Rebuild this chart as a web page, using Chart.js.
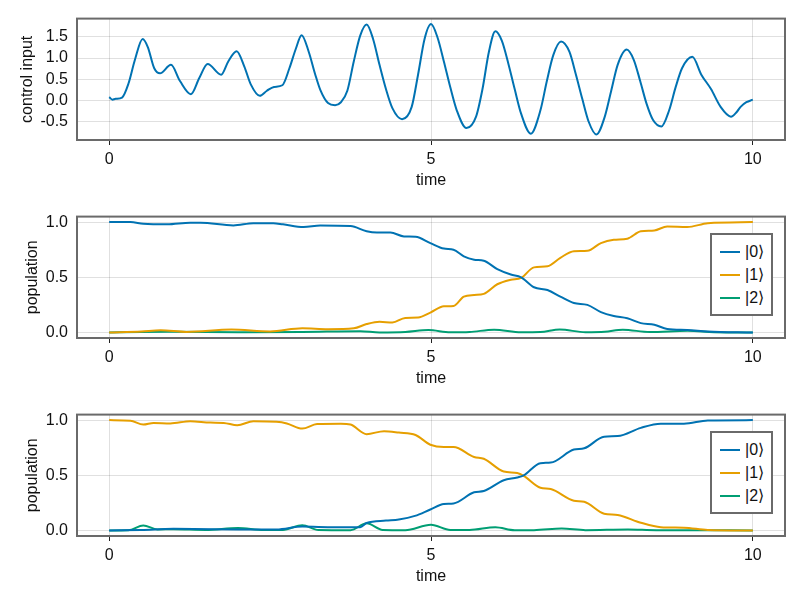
<!DOCTYPE html>
<html lang="en">
<head>
<meta charset="UTF-8">
<title>Control pulse and populations</title>
<script src="https://cdn.jsdelivr.net/npm/chart.js"></script>
<style>
    body { margin: 0; background: #fff; }
    #wrap { position: relative; width: 800px; height: 600px; font-family: "Liberation Sans", Arial, sans-serif; }
    .panel { position: absolute; left: 0; width: 800px; height: 198px; }
    .legend { position: absolute; left: 710px; top: 35px; width: 63px; height: 83px; box-sizing: border-box;
              border: 2px solid #6a6a6a; background: #fff; font-size: 16px; color: #111; }
    .legend .row { position: absolute; left: 0; height: 23px; line-height: 23px; white-space: nowrap; }
    .legend .sw { position: absolute; left: 8px; top: 10.5px; width: 20px; height: 2px; }
    .legend .lb { position: absolute; left: 33px; top: 0; }
</style>
</head>
<body>
<div id="wrap">
    <div class="panel" style="top:0"><canvas id="ctrlChart"></canvas></div>
    <div class="panel" style="top:198px"><canvas id="popChartA"></canvas><div class="legend" id="legendA"></div></div>
    <div class="panel" style="top:396px"><canvas id="popChartB"></canvas><div class="legend" id="legendB"></div></div>
</div>

<script>
// tick positions
const timeTicks = [0, 5, 10];
const ctrlTicks = [-0.5, 0, 0.5, 1.0, 1.5];
const popTicks = [0, 0.5, 1.0];
const stateLabels = ["|0\u27E9", "|1\u27E9", "|2\u27E9"];
const stateColors = ["#0072B2", "#E69F00", "#009E73"];

// control input
const ctrlT = [0,0.05,0.1,0.2,0.3,0.4,0.52,0.6,0.7,0.79,
    0.96,1.1,1.27,1.4,1.53,1.74,1.85,1.98,2.1,2.2,
    2.34,2.45,2.56,2.69,2.8,2.9,2.99,3.1,3.2,3.28,
    3.4,3.51,3.6,3.7,3.8,3.9,4.0,4.1,4.2,4.3,
    4.4,4.55,4.7,4.8,4.9,5.0,5.1,5.2,5.3,5.4,
    5.55,5.7,5.8,5.9,6.0,6.1,6.2,6.3,6.4,6.55,
    6.7,6.8,6.9,7.02,7.15,7.25,7.35,7.45,7.57,7.7,
    7.8,7.9,8.04,8.15,8.25,8.35,8.45,8.58,8.7,8.8,
    8.9,9.06,9.2,9.35,9.5,9.66,9.75,9.81,9.9,10];
const ctrlV = [0.08,0.02,0.04,0.07,0.4,0.96,1.45,1.26,0.76,0.64,
    0.84,0.46,0.15,0.53,0.86,0.61,0.92,1.16,0.80,0.38,
    0.11,0.23,0.32,0.36,0.76,1.22,1.54,1.15,0.62,0.25,
    -0.06,-0.11,-0.04,0.23,0.92,1.53,1.79,1.45,0.84,0.27,
    -0.18,-0.44,-0.15,0.62,1.45,1.80,1.49,0.92,0.31,-0.23,
    -0.65,-0.38,0.27,1.15,1.63,1.41,0.88,0.27,-0.31,-0.78,
    -0.23,0.46,1.07,1.39,1.15,0.62,0.04,-0.5,-0.80,-0.38,
    0.23,0.84,1.20,0.96,0.46,-0.08,-0.46,-0.61,-0.23,0.31,
    0.76,1.03,0.61,0.27,-0.15,-0.38,-0.27,-0.15,-0.04,0.02];

// middle panel: |0> -> |1>
const midT0 = [0,0.33,0.53,0.9,1.26,1.42,1.93,2.24,2.55,2.7,3.02,3.28,3.75,4.0,4.16,4.37,4.58,4.76,4.99,5.2,
    5.35,5.51,5.67,5.82,6.03,6.24,6.4,6.6,6.81,7.01,7.22,7.43,7.64,7.84,8.05,8.26,8.47,8.67,8.98,9.3,10];
const midV0 = [1.0,1.0,0.985,0.98,0.995,0.995,0.97,0.99,0.99,0.98,0.956,0.97,0.965,0.917,0.905,0.905,0.87,0.867,0.81,0.76,
    0.75,0.69,0.66,0.65,0.574,0.525,0.50,0.41,0.385,0.325,0.267,0.25,0.185,0.15,0.129,0.085,0.07,0.032,0.023,0.01,0.0];
const midT1 = [0,0.5,0.8,1.2,1.9,2.5,3.0,3.4,3.8,4.0,4.2,4.4,4.6,4.8,4.99,5.2,5.35,5.51,5.67,5.82,
    6.03,6.24,6.4,6.6,6.81,7.01,7.22,7.43,7.64,7.84,8.05,8.26,8.47,8.67,8.98,9.3,10];
const midV1 = [0,0.01,0.02,0.005,0.026,0.01,0.038,0.03,0.038,0.076,0.097,0.09,0.132,0.135,0.18,0.237,0.24,0.325,0.34,0.35,
    0.437,0.478,0.495,0.59,0.60,0.677,0.736,0.74,0.81,0.84,0.85,0.917,0.925,0.96,0.955,0.99,1.0];
const midT2 = [0,0.5,1.0,2.0,3.0,3.9,4.2,4.6,4.96,5.3,5.6,5.98,6.4,6.7,7.0,7.4,7.7,7.98,8.4,8.99,9.4,10];
const midV2 = [0,0.005,0.006,0.003,0.005,0.012,0.0,0.004,0.022,0.002,0.005,0.025,0.002,0.004,0.027,0.002,0.006,0.025,0.004,0.016,0.003,0.0];

// bottom panel: |1> -> |0>
const botT0 = [0,0.5,1.0,2.0,2.6,3.0,3.5,3.9,4.0,4.3,4.5,4.75,4.99,5.2,5.35,5.67,5.82,6.13,6.34,6.44,
    6.7,6.86,7.22,7.38,7.69,7.9,8.26,8.57,8.93,9.3,10];
const botV0 = [0,0.005,0.015,0.01,0.008,0.035,0.03,0.03,0.068,0.09,0.1,0.132,0.19,0.24,0.245,0.346,0.358,0.455,0.48,0.5,
    0.61,0.615,0.733,0.745,0.85,0.855,0.93,0.967,0.967,0.997,1.0];
const botT1 = [0,0.33,0.53,0.69,0.95,1.26,1.57,1.78,1.99,2.24,2.6,2.76,3.0,3.23,3.6,3.75,4.0,4.27,4.5,4.76,
    4.99,5.2,5.35,5.67,5.82,6.13,6.34,6.44,6.7,6.86,7.22,7.38,7.69,7.9,8.26,8.57,8.93,9.3,10];
const botV1 = [1.0,0.995,0.96,0.975,0.97,0.99,0.978,0.975,0.953,0.99,0.985,0.97,0.923,0.965,0.968,0.96,0.873,0.9,0.887,0.865,
    0.777,0.756,0.756,0.666,0.65,0.534,0.52,0.495,0.387,0.375,0.27,0.26,0.152,0.14,0.07,0.03,0.025,0.005,0];
const botT2 = [0,0.3,0.53,0.75,1.0,1.5,2.0,2.4,2.7,3.0,3.25,3.75,4.0,4.25,4.6,5.0,5.3,5.6,6.0,6.3,
    6.6,7.03,7.4,8.06,8.5,9.0,10];
const botV2 = [0,0.002,0.045,0.01,0.012,0.005,0.022,0.005,0.005,0.048,0.005,0.003,0.065,0.005,0.003,0.052,0.005,0.004,0.03,0.003,
    0.003,0.018,0.003,0.01,0.003,0.003,0];

const FONT = "'Liberation Sans', Arial, sans-serif";
Chart.defaults.font.family = FONT;
Chart.defaults.font.size = 16;
Chart.defaults.color = "#111";

function pts(ts, vs) {
    return ts.map((t, i) => ({ x: t, y: vs[i] }));
}

// frame around the plot area, like Makie's spines
const framePlugin = {
    id: "frame",
    afterDraw(chart) {
        const a = chart.chartArea, ctx = chart.ctx;
        ctx.save();
        ctx.strokeStyle = "#6a6a6a";
        ctx.lineWidth = 2;
        ctx.strokeRect(a.left, a.top, a.right - a.left, a.bottom - a.top);
        ctx.restore();
    }
};

function makeChart(id, datasets, yLabel, yTicks, yMin, yMax, yTitlePad) {
    return new Chart(document.getElementById(id), {
        type: "line",
        data: { datasets: datasets },
        plugins: [framePlugin],
        options: {
            responsive: true,
            maintainAspectRatio: false,
            animation: false,
            layout: { padding: { top: 15, right: 15, left: 0, bottom: 0 } },
            plugins: { legend: { display: false }, tooltip: { enabled: false } },
            elements: { point: { radius: 0 }, line: { borderWidth: 2, cubicInterpolationMode: "monotone" } },
            scales: {
                x: {
                    type: "linear", min: -0.5, max: 10.5,
                    afterBuildTicks: s => { s.ticks = timeTicks.map(v => ({ value: v })); },
                    afterFit: s => { s.height = 58; },
                    ticks: { padding: 5, maxRotation: 0, callback: v => String(v) },
                    grid: { color: "rgba(0,0,0,0.12)", tickColor: "#222", tickLength: 5 },
                    border: { display: false },
                    title: { display: true, text: "time", padding: { top: 0, bottom: 7.6 } }
                },
                y: {
                    min: yMin, max: yMax,
                    afterBuildTicks: s => { s.ticks = yTicks.map(v => ({ value: v })); },
                    afterFit: s => { s.width = 77; },
                    ticks: { padding: 9, callback: v => v.toFixed(1) },
                    grid: { color: "rgba(0,0,0,0.12)", drawTicks: false },
                    border: { display: false },
                    title: { display: true, text: yLabel, padding: { top: yTitlePad, bottom: 0 } }
                }
            }
        }
    });
}

function popSets(t0, v0, t1, v1, t2, v2) {
    const ts = [t0, t1, t2], vs = [v0, v1, v2];
    return stateLabels.map((lab, i) => ({
        label: lab, data: pts(ts[i], vs[i]), borderColor: stateColors[i], fill: false
    }));
}

// html legend from the datasets
function buildLegend(chart, elId) {
    const box = document.getElementById(elId);
    chart.data.datasets.forEach((ds, i) => {
        const row = document.createElement("div");
        row.className = "row";
        row.style.top = (5.2 + i * 23) + "px";
        row.innerHTML = '<span class="sw" style="background:' + ds.borderColor + '"></span><span class="lb">' + ds.label + "</span>";
        box.appendChild(row);
    });
}

makeChart("ctrlChart", [{ label: "control", data: pts(ctrlT, ctrlV), borderColor: stateColors[0], fill: false }],
    "control input", ctrlTicks, -0.93, 1.93, 17.5);

const chartA = makeChart("popChartA", popSets(midT0, midV0, midT1, midV1, midT2, midV2),
    "population", popTicks, -0.05, 1.05, 23);
buildLegend(chartA, "legendA");

const chartB = makeChart("popChartB", popSets(botT0, botV0, botT1, botV1, botT2, botV2),
    "population", popTicks, -0.05, 1.05, 23);
buildLegend(chartB, "legendB");
</script>
</body>
</html>
